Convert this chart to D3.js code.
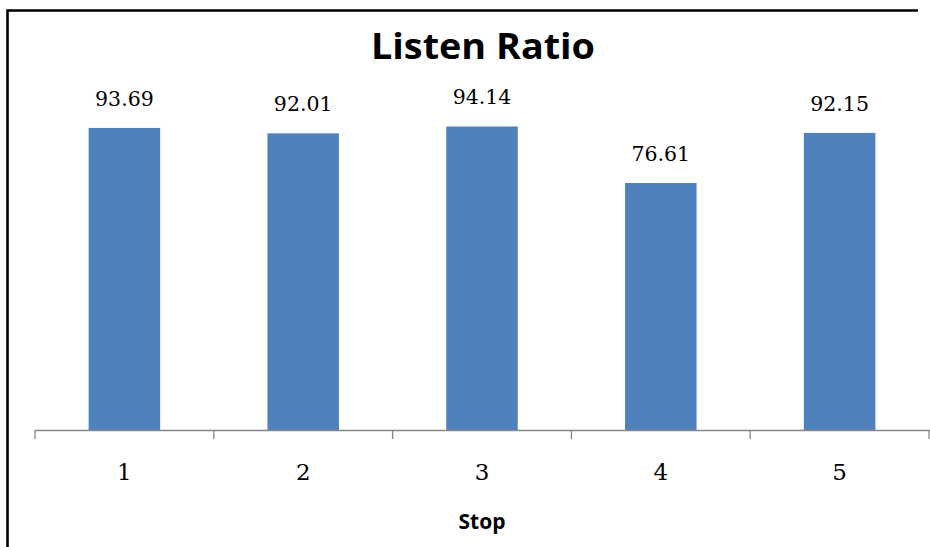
<!DOCTYPE html>
<html>
<head>
<meta charset="utf-8">
<script src="https://cdn.jsdelivr.net/npm/d3@7"></script>
<style>
  html, body { margin: 0; padding: 0; background: #fff; overflow: hidden; }
  svg { display: block; }
</style>
</head>
<body>
<svg id="chart" width="930" height="547"></svg>
<script>
// Listen ratio per stop
const stops = ["1", "2", "3", "4", "5"];
const listenRatio = [93.69, 92.01, 94.14, 76.61, 92.15];
const valueLabels = ["93.69", "92.01", "94.14", "76.61", "92.15"];
const yDomain = [0, 100];

const title = "Listen Ratio";
const xTitle = "Stop";

const W = 930, H = 547;
const svg = d3.select("#chart");

// outer frame: top and left edges
svg.append("path")
  .attr("d", `M7.5,${H} V10.5 H918`)
  .attr("fill", "none")
  .attr("stroke", "#000")
  .attr("stroke-width", 2.6);

const axisY = 430;
const x = d3.scaleBand()
  .domain(stops)
  .range([35, 929])
  .paddingInner(0.6)
  .paddingOuter(0.3);

const y = d3.scaleLinear()
  .domain(yDomain)
  .range([axisY, 107.6]);

// title
svg.append("text")
  .attr("x", 483).attr("y", 58.5)
  .attr("text-anchor", "middle")
  .attr("font-family", "'Open Sans', sans-serif")
  .attr("font-weight", "bold")
  .attr("font-size", 36)
  .attr("textLength", 224)
  .attr("lengthAdjust", "spacingAndGlyphs")
  .attr("fill", "#000")
  .text(title);

// bars
svg.append("g").selectAll("rect")
  .data(stops)
  .join("rect")
  .attr("x", d => x(d))
  .attr("width", x.bandwidth())
  .attr("y", (d, i) => y(listenRatio[i]))
  .attr("height", (d, i) => y(0) - y(listenRatio[i]))
  .attr("fill", "#4F81BD");

// value labels
svg.append("g").selectAll("text")
  .data(stops)
  .join("text")
  .attr("x", d => x(d) + x.bandwidth() / 2)
  .attr("y", (d, i) => y(listenRatio[i]) - 22)
  .attr("text-anchor", "middle")
  .attr("font-family", "'DejaVu Serif', serif")
  .attr("font-size", 20.5)
  .attr("fill", "#000")
  .text((d, i) => valueLabels[i]);

// category axis: baseline line, boundary ticks, labels
const step = x.step();
const x0 = x.range()[0];
const axisG = svg.append("g");
axisG.append("line")
  .attr("x1", x0).attr("x2", W)
  .attr("y1", axisY + 0.5).attr("y2", axisY + 0.5)
  .attr("stroke", "#888").attr("stroke-width", 1.3);
axisG.selectAll("line.tick")
  .data(d3.range(stops.length + 1))
  .join("line")
  .attr("class", "tick")
  .attr("x1", i => x0 + i * step).attr("x2", i => x0 + i * step)
  .attr("y1", axisY).attr("y2", axisY + 9)
  .attr("stroke", "#888").attr("stroke-width", 1.3);

axisG.selectAll("text")
  .data(stops)
  .join("text")
  .attr("x", d => x(d) + x.bandwidth() / 2)
  .attr("y", 480)
  .attr("text-anchor", "middle")
  .attr("font-family", "'DejaVu Serif', serif")
  .attr("font-size", 23)
  .attr("fill", "#000")
  .text(d => d);

// axis title
svg.append("text")
  .attr("x", 482).attr("y", 529)
  .attr("text-anchor", "middle")
  .attr("font-family", "'Open Sans', sans-serif")
  .attr("font-weight", "bold")
  .attr("font-size", 21)
  .attr("fill", "#000")
  .text(xTitle);
</script>
</body>
</html>
